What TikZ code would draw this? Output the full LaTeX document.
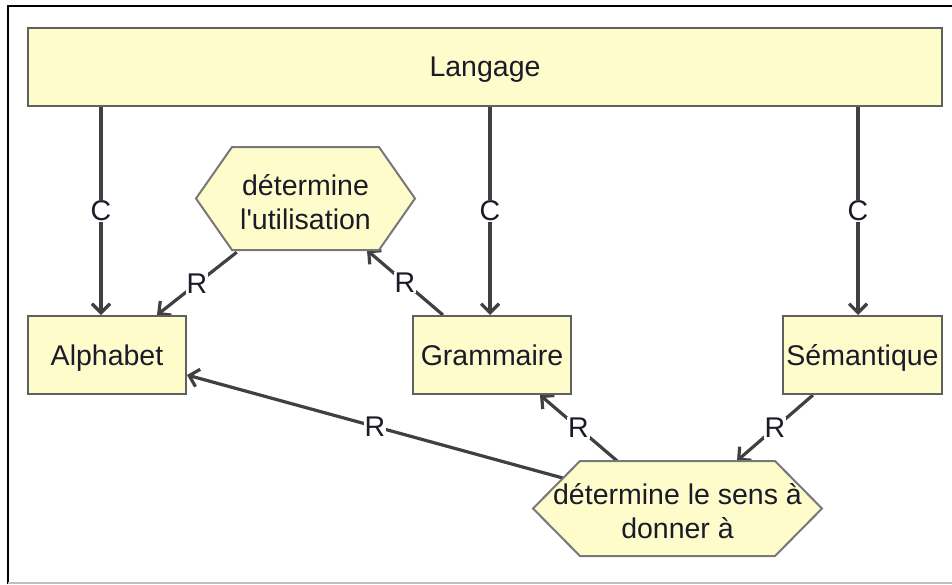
\documentclass[tikz,border=0pt]{standalone}
\usepackage{fontspec}
\setmainfont{Liberation Sans}[Ligatures=TeXOff]
\usetikzlibrary{arrows.meta,calc}
\pgfdeclarelayer{bg}
\pgfsetlayers{bg,main}
\definecolor{boxfill}{RGB}{255,252,204}
\definecolor{boxline}{RGB}{96,96,96}
\definecolor{hexline}{RGB}{120,120,120}
\definecolor{edgecol}{RGB}{64,64,64}
\definecolor{txtcol}{RGB}{26,26,40}
\begin{document}
\begin{tikzpicture}[x=1pt,y=-1pt,
  every node/.style={font=\fontsize{28.5}{34}\selectfont, text=txtcol},
  box/.style={draw=boxline, line width=2pt, fill=boxfill, inner sep=0pt, minimum height=78pt, text depth=0pt},
  hexshape/.style={draw=hexline, line width=2pt, fill=boxfill},
  hextext/.style={inner sep=0pt, align=center},
  link/.style={draw=edgecol, line width=3.2pt, -{Straight Barb[length=9pt,width=18pt]}},
  lbl/.style={fill=white, inner sep=1pt}]
\useasboundingbox (0,0) rectangle (952,584);
% frame
\draw[line width=2pt, black] (8,584) -- (8,6) -- (952,6);
\draw[line width=2pt, gray!50] (8,583) -- (952,583);

% boxes
\node[box, minimum width=914pt] (lang) at (485,67) {Langage};
\node[box, minimum width=158pt] (alph) at (107,355) {Alphabet};
\node[box, minimum width=158pt] (gram) at (492,355) {Grammaire};
\node[box, minimum width=159pt] (sem) at (862.5,355) {Sémantique};

% hexagons
\draw[hexshape] (196,198.5) -- (232,147) -- (379,147) -- (415,198.5) -- (379,250) -- (232,250) -- cycle;
\node[hextext, minimum width=219pt, minimum height=103pt] (h1) at (305.5,198.5) {};
\node[hextext] (h1t) at (305.5,202) {détermine\\l'utilisation};
\draw[hexshape] (533,508.5) -- (580,461) -- (775,461) -- (822,508.5) -- (775,556) -- (580,556) -- cycle;
\node[hextext, minimum width=289pt, minimum height=95pt] (h2) at (677.5,508.5) {};
\node[hextext] (h2t) at (677.5,511) {détermine le sens à\\donner à};

% connector end points
\coordinate (ca) at ($(alph.north)+(-6,0)$);
\coordinate (cg) at ($(gram.north)+(-2,0)$);
\coordinate (cs) at ($(sem.north)+(-4.5,0)$);

\begin{pgfonlayer}{bg}
\draw[link] (lang.south -| ca) -- node[lbl]{C} (ca);
\draw[link] (lang.south -| cg) -- node[lbl]{C} (cg);
\draw[link] (lang.south -| cs) -- node[lbl]{C} (cs);
\draw[link] ($(h1.south west)+(41,2)$) -- node[lbl]{R} ($(alph.north)+(50,0)$);
\draw[link] ($(gram.north)+(-49,0)$) -- node[lbl]{R} ($(h1.south)+(61.5,0)$);
\draw[link] ($(h2.west)+(30,-30.5)$) -- node[lbl]{R} ($(alph.east)+(0,20)$);
\draw[link] ($(h2.north)+(-60.5,0)$) -- node[lbl]{R} ($(gram.south)+(48,0)$);
\draw[link] ($(sem.south)+(-49.5,0)$) -- node[lbl]{R} ($(h2.north)+(59.5,0)$);
\end{pgfonlayer}
\end{tikzpicture}
\end{document}
